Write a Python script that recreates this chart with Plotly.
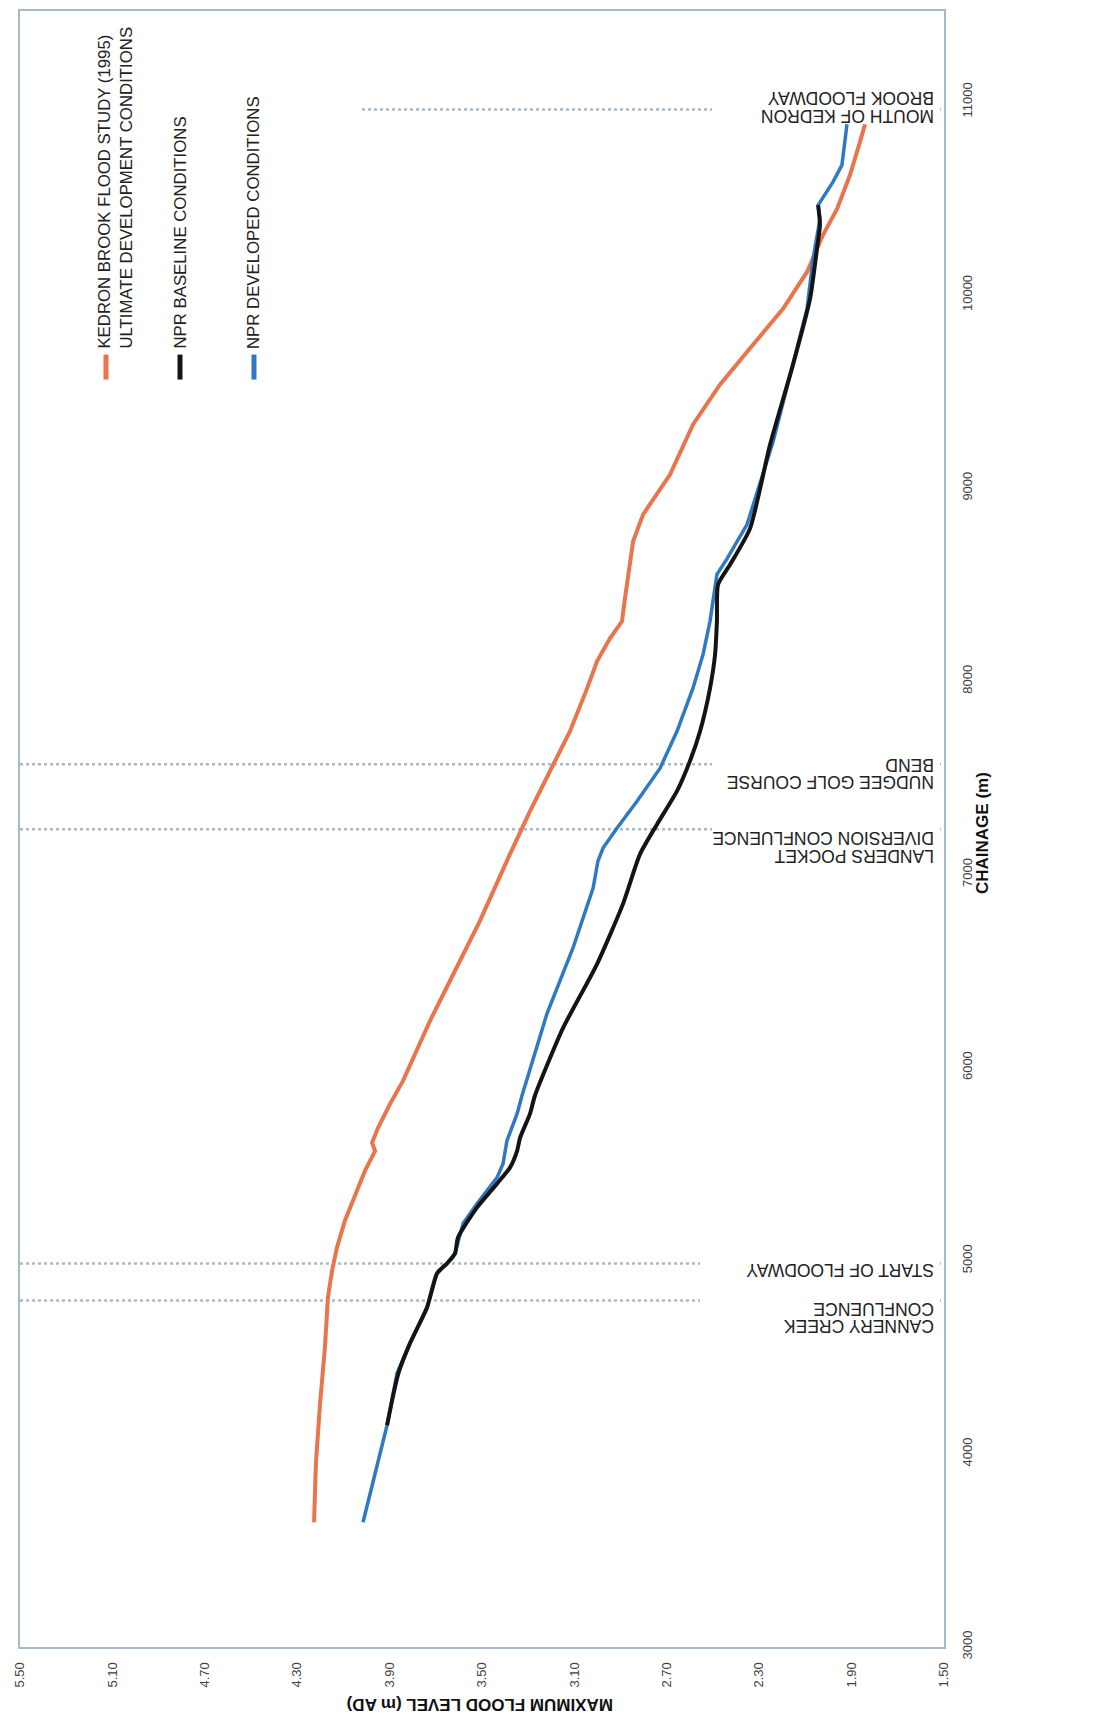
import plotly.graph_objects as go

# ---------------- data ----------------
kedron_chainage = [3646, 3951, 4261, 4551, 4810, 4949, 5068, 5208, 5363, 5466,
                   5569, 5611, 5688, 5812, 5931, 6242, 6448, 6759, 7105, 7327,
                   7534, 7741, 7963, 8103, 8222, 8310, 8429, 8723, 8863, 9070,
                   9328, 9535, 9742, 9928, 10119, 10310, 10445, 10621, 10791, 10884]
kedron_level = [4.227, 4.219, 4.201, 4.180, 4.167, 4.149, 4.128, 4.093, 4.041, 4.006,
                3.963, 3.976, 3.950, 3.898, 3.842, 3.725, 3.639, 3.509, 3.379, 3.292,
                3.206, 3.119, 3.045, 3.002, 2.946, 2.894, 2.881, 2.846, 2.803, 2.686,
                2.587, 2.470, 2.327, 2.197, 2.093, 2.024, 1.963, 1.907, 1.864, 1.842]

developed_chainage = [3646, 4148, 4417, 4572, 4758, 4934, 4985, 5037, 5192, 5295, 5430,
                      5502, 5621, 5761, 5854, 6278, 6619, 6929, 7069, 7136, 7239,
                      7379, 7550, 7741, 7963, 8139, 8310, 8553, 8635, 8811, 9240,
                      9587, 9928, 10186, 10310, 10393, 10465, 10584, 10672, 10791, 10884]
developed_level = [4.015, 3.911, 3.868, 3.812, 3.738, 3.695, 3.652, 3.617, 3.582, 3.522, 3.435,
                   3.409, 3.392, 3.348, 3.327, 3.219, 3.106, 3.019, 2.998, 2.976, 2.916,
                   2.829, 2.729, 2.656, 2.587, 2.543, 2.513, 2.483, 2.439, 2.353, 2.240,
                   2.167, 2.093, 2.067, 2.050, 2.037, 2.045, 1.981, 1.942, 1.929, 1.920]

baseline_chainage = [4148, 4300, 4417, 4572, 4758, 4934, 4985, 5037, 5120, 5275, 5399,
                     5482, 5569, 5637, 5761, 5854, 6205, 6536, 6846, 7105, 7260,
                     7431, 7586, 7741, 7963, 8139, 8310, 8501, 8604, 8790, 9225,
                     9638, 9980, 10238, 10362, 10465]
baseline_level = [3.911, 3.885, 3.862, 3.812, 3.738, 3.695, 3.652, 3.617, 3.604, 3.522, 3.435,
                  3.379, 3.348, 3.335, 3.292, 3.271, 3.149, 3.002, 2.890, 2.816, 2.742,
                  2.656, 2.600, 2.556, 2.513, 2.491, 2.483, 2.478, 2.426, 2.340, 2.253,
                  2.154, 2.080, 2.050, 2.037, 2.045]

series_names = ["KEDRON BROOK FLOOD STUDY (1995)<br>ULTIMATE DEVELOPMENT CONDITIONS",
                "NPR BASELINE CONDITIONS",
                "NPR DEVELOPED CONDITIONS"]

marker_chainage = [10960, 7570, 7234, 4985, 4794]
marker_labels = [["MOUTH OF KEDRON", "BROOK FLOODWAY"],
                 ["NUDGEE GOLF COURSE", "BEND"],
                 ["LANDERS POCKET", "DIVERSION CONFLUENCE"],
                 ["START OF FLOODWAY"],
                 ["CANNERY CREEK", "CONFLUENCE"]]

level_ticks = [1.5, 1.9, 2.3, 2.7, 3.1, 3.5, 3.9, 4.3, 4.7, 5.1, 5.5]
level_tick_labels = ["1.50", "1.90", "2.30", "2.70", "3.10", "3.50", "3.90", "4.30", "4.70", "5.10", "5.50"]
chainage_ticks = [3000, 4000, 5000, 6000, 7000, 8000, 9000, 10000, 11000]
chainage_tick_labels = ["3000", "4000", "5000", "6000", "7000", "8000", "9000", "10000", "11000"]

x_title = "CHAINAGE (m)"
y_title = "MAXIMUM FLOOD LEVEL (m AD)"

# ---------------- layout helpers ----------------
PAGE_W, PAGE_H = 1093, 1718
OFF = 8                     # default body margin of the html page
W, H = PAGE_W - OFF, PAGE_H - OFF
L, R, T, B = 20, 944, 9, 1647  # plot-area box in page pixels


def px(x):
    return (x - L) / (R - L)


def py(y):
    return (B - y) / (B - T)


ORANGE = "#E8754B"
BLACK = "#141414"
BLUE = "#2F79C2"
FONT = "Liberation Sans"

fig = go.Figure()
fig.add_trace(go.Scatter(x=kedron_level, y=kedron_chainage, mode="lines",
                         line=dict(color=ORANGE, width=4), name=series_names[0]))
fig.add_trace(go.Scatter(x=developed_level, y=developed_chainage, mode="lines",
                         line=dict(color=BLUE, width=3.5), name=series_names[2]))
fig.add_trace(go.Scatter(x=baseline_level, y=baseline_chainage, mode="lines",
                         line=dict(color=BLACK, width=4, shape="spline", smoothing=0.6),
                         name=series_names[1]))

shapes = []
# dotted reference lines
for c in marker_chainage:
    shapes.append(dict(type="line", xref="paper", yref="y", x0=0, x1=1, y0=c, y1=c,
                       line=dict(color="#A9BACB", width=2.5, dash="dot"), layer="below"))
# white boxes (legend + annotation boxes)
for (x0, y0, x1, y1) in [(L, T + 2, 360, 385), (712, 70, 940, 122),
                         (712, 735, 940, 863), (700, 1237, 940, 1335)]:
    shapes.append(dict(type="rect", xref="paper", yref="paper",
                       x0=px(x0), x1=px(x1), y0=py(y1), y1=py(y0),
                       fillcolor="white", line=dict(width=0), layer="below"))
# legend swatches
for xx, col in [(106, ORANGE), (180, BLACK), (254, BLUE)]:
    shapes.append(dict(type="line", xref="paper", yref="paper",
                       x0=px(xx), x1=px(xx), y0=py(353), y1=py(378),
                       line=dict(color=col, width=5), layer="above"))

annotations = []
# legend texts
for xc, txt in [(116, series_names[0]), (181, series_names[1]), (253, series_names[2])]:
    annotations.append(dict(xref="paper", yref="paper", x=px(xc), y=py(349),
                            xanchor="center", yanchor="bottom", text=txt, showarrow=False,
                            textangle=-90, align="left",
                            font=dict(family=FONT, size=16.8, color="#222")))
# reference-line labels (upside down)
label_rows = [(96, marker_labels[0][1]), (114, marker_labels[0][0]),
              (764, marker_labels[1][1]), (781, marker_labels[1][0]),
              (837, marker_labels[2][1]), (855, marker_labels[2][0]),
              (1269, marker_labels[3][0]),
              (1308, marker_labels[4][1]), (1325, marker_labels[4][0])]
for yy, txt in label_rows:
    annotations.append(dict(xref="paper", yref="paper", x=px(936), y=py(yy),
                            xanchor="right", yanchor="middle", text=txt, showarrow=False,
                            textangle=180, font=dict(family=FONT, size=17.5, color="#222")))
# axis titles
annotations.append(dict(xref="paper", yref="paper", x=px(983), y=py(832),
                        xanchor="center", yanchor="middle", text="<b>" + x_title + "</b>",
                        showarrow=False, textangle=-90,
                        font=dict(family=FONT, size=17, color="#111")))
annotations.append(dict(xref="paper", yref="paper", x=px(480), y=py(1704),
                        xanchor="center", yanchor="middle", text="<b>" + y_title + "</b>",
                        showarrow=False, textangle=180,
                        font=dict(family=FONT, size=17, color="#111")))

axis_common = dict(showgrid=False, zeroline=False, showline=True, mirror=True,
                   linecolor="#A7BACA", linewidth=2, ticks="", tickangle=-90,
                   tickfont=dict(family=FONT, size=13, color="#3f3f3f"))

fig.update_layout(
    width=W, height=H, autosize=False,
    margin=dict(l=L - OFF, r=PAGE_W - R, t=T - OFF, b=PAGE_H - B, pad=0),
    paper_bgcolor="white", plot_bgcolor="rgba(0,0,0,0)",
    showlegend=False,
    xaxis=dict(range=[5.5, 1.5], tickvals=level_ticks, ticktext=level_tick_labels,
               ticklabelstandoff=8, **axis_common),
    yaxis=dict(range=[3000, 11470], side="right", tickvals=chainage_ticks,
               ticktext=chainage_tick_labels, ticklabelstandoff=10, **axis_common),
    shapes=shapes, annotations=annotations,
)

fig.write_html("out.html")
